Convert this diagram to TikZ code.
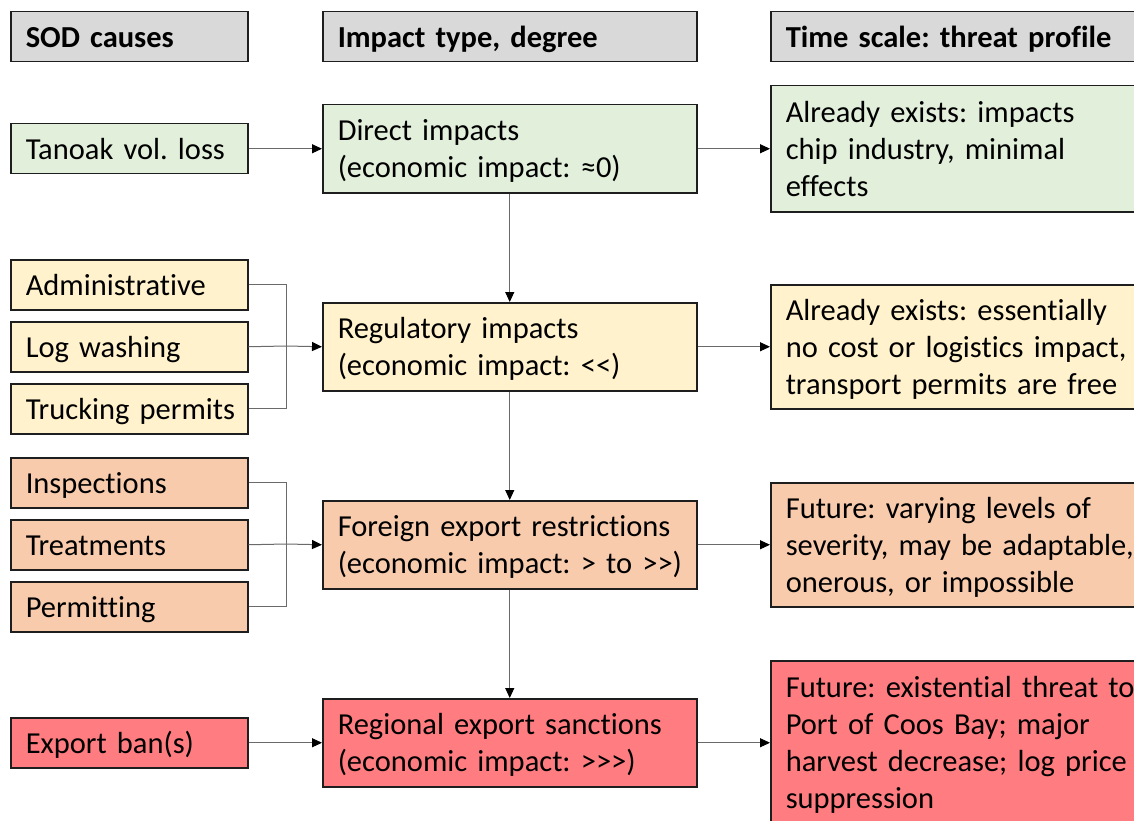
\documentclass[tikz,border=0pt]{standalone}
\usepackage{fontspec}
\setmainfont{Carlito}[Ligatures={TeXOff,CommonOff}]
\frenchspacing
\usetikzlibrary{arrows.meta}
\definecolor{hdrgray}{HTML}{D9D9D9}
\definecolor{cgreen}{HTML}{E2EFDA}
\definecolor{cyellow}{HTML}{FFF2CC}
\definecolor{corange}{HTML}{F8CBAD}
\definecolor{cred}{HTML}{FF7C80}
\definecolor{bord}{HTML}{1E1E1E}
\definecolor{linegray}{HTML}{6A6A6A}
\newcommand\mytopstrut{\rule{0pt}{29pt}}
\newcommand\mybotstrut{\rule[-8pt]{0pt}{8pt}}
\begin{document}
\begin{tikzpicture}[x=1pt,y=-1pt,
  every node/.style={font=\fontsize{30.5}{37}\selectfont},
  bx/.style={draw=bord, line width=1.5pt, anchor=north west, inner xsep=15pt, inner ysep=0pt,
    align=left, execute at begin node=\mytopstrut, execute at end node=\mybotstrut},
  lw/.style={minimum width=237pt, text width=207pt},
  mw/.style={minimum width=374pt, text width=344pt},
  rw/.style={text width=370pt},
  hdr/.style={bx, fill=hdrgray, minimum height=50pt, font=\fontsize{30.5}{37}\selectfont\bfseries},
  plain/.style={draw=linegray, line width=1pt},
  conn/.style={draw=linegray, line width=1pt, -{Triangle[length=10pt,width=9pt,color=black]}}
]
\useasboundingbox (0,0) rectangle (1134,821);
\clip (0,0) rectangle (1134,821);
\fill[white] (0,0) rectangle (1134,821);

% headers
\node[hdr,lw] (h1) at (10,11) {\mbox{SOD causes}};
\node[hdr,mw] (h2) at (322,11) {\mbox{Impact type, degree}};
\node[hdr,rw] (h3) at (770,11) {\mbox{Time scale: threat profile}};

% left column
\node[bx,lw,fill=cgreen,minimum height=50pt] (tanoak) at (10,123) {\mbox{Tanoak vol. loss}};
\node[bx,lw,fill=cyellow,minimum height=50pt] (admin) at (10,259) {\mbox{Administrative}};
\node[bx,lw,fill=cyellow,minimum height=50pt] (logw) at (10,321) {\mbox{Log washing}};
\node[bx,lw,fill=cyellow,minimum height=50pt] (truck) at (10,383) {\mbox{Trucking permits}};
\node[bx,lw,fill=corange,minimum height=50pt] (insp) at (10,457) {\mbox{Inspections}};
\node[bx,lw,fill=corange,minimum height=50pt] (treat) at (10,519) {\mbox{Treatments}};
\node[bx,lw,fill=corange,minimum height=50pt] (perm) at (10,581) {\mbox{Permitting}};
\node[bx,lw,fill=cred,minimum height=50pt] (ban) at (10,717) {\mbox{Export ban(s)}};

% middle column
\node[bx,mw,fill=cgreen,minimum height=88pt] (direct) at (322,104) {\mbox{Direct impacts}\\\mbox{(economic impact: ≈0)}};
\node[bx,mw,fill=cyellow,minimum height=88pt] (reg) at (322,302) {\mbox{Regulatory impacts}\\\mbox{(economic impact: <<)}};
\node[bx,mw,fill=corange,minimum height=88pt] (foreign) at (322,500) {\mbox{Foreign export restrictions}\\\mbox{(economic impact: > to >>)}};
\node[bx,mw,fill=cred,minimum height=88pt] (regional) at (322,698) {\mbox{Regional export sanctions}\\\mbox{(economic impact: >>>)}};

% right column
\node[bx,rw,fill=cgreen,minimum height=126pt] (r1) at (770,85) {\mbox{Already exists: impacts}\\\mbox{chip industry, minimal}\\\mbox{effects}};
\node[bx,rw,fill=cyellow,minimum height=124pt] (r2) at (770,284) {\mbox{Already exists: essentially}\\\mbox{no cost or logistics impact,}\\\mbox{transport permits are free}};
\node[bx,rw,fill=corange,minimum height=124pt] (r3) at (770,482) {\mbox{Future: varying levels of}\\\mbox{severity, may be adaptable,}\\\mbox{onerous, or impossible}};
\node[bx,rw,fill=cred,minimum height=164pt] (r4) at (770,660) {\mbox{Future: existential threat to}\\\mbox{Port of Coos Bay; major}\\\mbox{harvest decrease; log price}\\\mbox{suppression}};

% junctions
\coordinate (j1) at (286,346);
\coordinate (j2) at (286,544);

% connectors
\draw[conn] (tanoak.east) -- (direct.west);
\draw[conn] (direct.east) -- (r1.west);
\draw[conn] (direct.south) -- (reg.north);

\draw[plain] (admin.east) -| (j1);
\draw[plain] (truck.east) -| (j1);
\draw[plain] (logw.east) -- (j1);
\draw[conn] (j1) -- (reg.west);
\draw[conn] (reg.east) -- (r2.west);
\draw[conn] (reg.south) -- (foreign.north);

\draw[plain] (insp.east) -| (j2);
\draw[plain] (perm.east) -| (j2);
\draw[plain] (treat.east) -- (j2);
\draw[conn] (j2) -- (foreign.west);
\draw[conn] (foreign.east) -- (r3.west);
\draw[conn] (foreign.south) -- (regional.north);

\draw[conn] (ban.east) -- (regional.west);
\draw[conn] (regional.east) -- (r4.west);
\end{tikzpicture}
\end{document}
